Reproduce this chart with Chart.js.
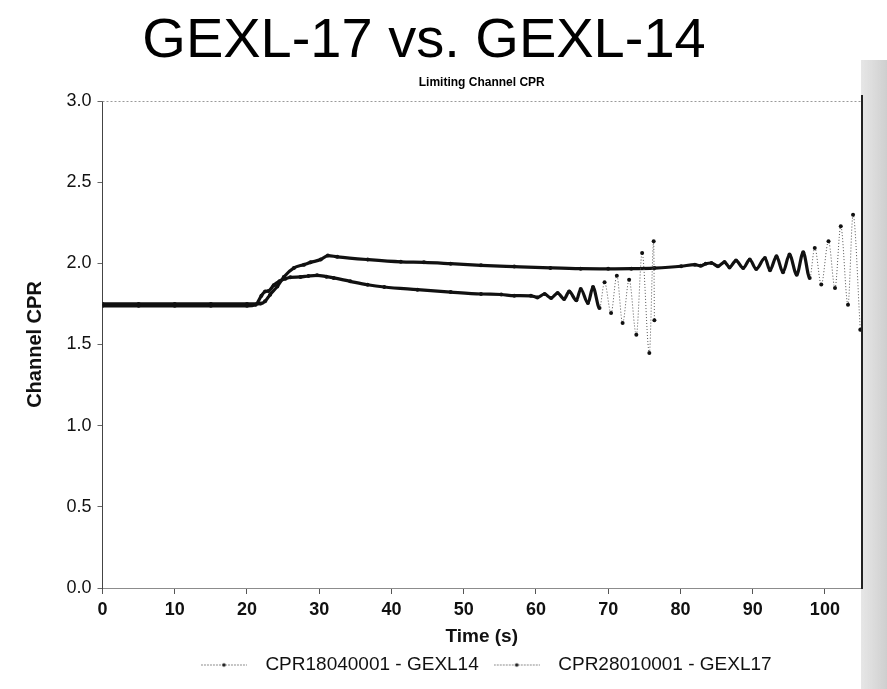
<!DOCTYPE html>
<html>
<head>
<meta charset="utf-8">
<script src="https://cdn.jsdelivr.net/npm/chart.js@4/dist/chart.umd.min.js"></script>
<style>
  html, body { margin: 0; padding: 0; background: #fff; }
  #wrap { position: relative; width: 887px; height: 689px; }
  canvas { display: block; }
</style>
</head>
<body>
<div id="wrap"><canvas id="c" width="887" height="689"></canvas></div>
<script>
// ---- data ----
const mainTitle = "GEXL-17 vs. GEXL-14";
const subTitle = "Limiting Channel CPR";
const xAxisTitle = "Time (s)";
const yAxisTitle = "Channel CPR";
const seriesLabels = ["CPR18040001 - GEXL14", "CPR28010001 - GEXL17"];
const xTickValues = [0, 10, 20, 30, 40, 50, 60, 70, 80, 90, 100];
const yTickValues = [0.0, 0.5, 1.0, 1.5, 2.0, 2.5, 3.0];

const timeGEXL14 = [0,5,10,15,20,21.2,22.0,22.5,23.0,23.7,24.5,25.3,26.0,27.4,28.5,29.7,31.0,32.0,34.3,36.7,39.0,43.6,48.2,52.4,55.2,57.0,59.3,60.2,61.2,62.1,63.0,63.9,64.6,65.6,66.2,67.2,67.9,68.8,69.5,70.4,71.2,72.0,72.9,73.9,74.7,75.7,76.3,76.4];
const cprGEXL14  = [1.738,1.738,1.738,1.738,1.738,1.745,1.800,1.827,1.830,1.865,1.890,1.905,1.914,1.916,1.922,1.926,1.918,1.910,1.889,1.868,1.854,1.838,1.823,1.811,1.808,1.801,1.800,1.790,1.811,1.786,1.817,1.780,1.827,1.772,1.842,1.755,1.854,1.725,1.883,1.694,1.924,1.632,1.899,1.560,2.064,1.447,2.136,1.650];

const timeGEXL17 = [0,5,10,15,20,21.9,22.5,23.2,24.2,25.1,26.5,27.9,28.8,30.2,31.2,32.5,36.7,41.3,44.5,48.2,52.4,57,62,66.2,70,73.2,76.4,80.1,82,82.8,83.5,84.3,85.2,86.1,86.8,87.7,88.7,89.6,90.5,91.7,92.4,93.3,94.2,95.1,96.1,97.0,97.9,98.6,99.5,100.5,101.4,102.2,103.2,103.9,104.9];
const cprGEXL17  = [1.750,1.750,1.750,1.750,1.750,1.752,1.766,1.807,1.858,1.916,1.972,1.992,2.006,2.023,2.048,2.040,2.023,2.009,2.006,1.998,1.988,1.980,1.972,1.967,1.966,1.967,1.971,1.982,1.992,1.985,1.997,2.002,1.982,2.008,1.975,2.017,1.971,2.023,1.965,2.033,1.957,2.043,1.945,2.054,1.930,2.068,1.910,2.095,1.869,2.136,1.848,2.228,1.745,2.300,1.591];

// ---- styling ----
const FONT = "'Liberation Sans', Arial, Helvetica, sans-serif";

function toPoints(xs, ys) { return xs.map((x, i) => ({ x: x, y: ys[i] })); }

function steep(ctx) {
  const dx = Math.abs(ctx.p1.x - ctx.p0.x);
  const dy = Math.abs(ctx.p1.y - ctx.p0.y);
  return dy > 4.5 * Math.max(dx, 0.001);
}

// legend sample: thin dotted grey line with a dark dot
function legendSample() {
  const cv = document.createElement('canvas');
  cv.width = 46; cv.height = 7;
  const g = cv.getContext('2d');
  g.strokeStyle = '#8a8a8a';
  g.lineWidth = 1;
  g.setLineDash([2, 1]);
  g.beginPath(); g.moveTo(0, 3.5); g.lineTo(46, 3.5); g.stroke();
  g.fillStyle = '#222';
  g.beginPath(); g.arc(23, 3.5, 1.8, 0, Math.PI * 2); g.fill();
  return cv;
}
const sample = legendSample();

function makeDataset(label, xs, ys) {
  return {
    label: label,
    data: toPoints(xs, ys),
    borderColor: '#111',
    backgroundColor: '#111',
    borderWidth: 3,
    pointRadius: 2,
    pointBorderWidth: 0,
    pointBackgroundColor: '#111',
    pointHoverRadius: 0,
    cubicInterpolationMode: 'monotone',
    fill: false,
    segment: {
      borderWidth: ctx => steep(ctx) ? 1 : 3.2,
      borderDash: ctx => steep(ctx) ? [1, 2] : undefined,
      borderColor: ctx => steep(ctx) ? '#555' : '#111'
    }
  };
}

const decorPlugin = {
  id: 'decor',
  beforeDraw(chart) {
    const c = chart.ctx;
    c.save();
    // scanned greyish strip on the right edge
    const grd = c.createLinearGradient(858, 0, 887, 0);
    grd.addColorStop(0, 'rgba(205,205,205,0.45)');
    grd.addColorStop(1, 'rgba(190,190,190,0.75)');
    c.fillStyle = grd;
    c.fillRect(861, 60, 26, 629);
    c.restore();
  },
  afterDraw(chart) {
    const c = chart.ctx;
    const a = chart.chartArea;
    c.save();
    // top border (light dotted)
    c.strokeStyle = '#9a9a9a';
    c.lineWidth = 1;
    c.setLineDash([2, 2]);
    c.beginPath(); c.moveTo(a.left, a.top + 0.5); c.lineTo(a.right, a.top + 0.5); c.stroke();
    c.setLineDash([]);
    // right border (solid dark)
    c.strokeStyle = '#222';
    c.lineWidth = 2;
    c.beginPath(); c.moveTo(a.right + 1, a.top - 6); c.lineTo(a.right + 1, a.bottom + 1); c.stroke();
    // titles
    c.fillStyle = '#000';
    c.textAlign = 'center';
    c.textBaseline = 'alphabetic';
    c.font = "56px " + FONT;
    c.fillText(mainTitle, 424, 57);
    c.font = "bold 12px " + FONT;
    c.fillText(subTitle, (a.left + a.right) / 2, 86);
    c.restore();
  }
};

new Chart(document.getElementById('c'), {
  type: 'line',
  data: {
    datasets: [
      makeDataset(seriesLabels[0], timeGEXL14, cprGEXL14),
      makeDataset(seriesLabels[1], timeGEXL17, cprGEXL17)
    ]
  },
  options: {
    responsive: false,
    animation: false,
    events: [],
    layout: { padding: { top: 101, right: 26, left: 8, bottom: 4.5 } },
    plugins: {
      tooltip: { enabled: false },
      title: { display: false },
      legend: {
        display: true,
        position: 'bottom',
        fullSize: false,
        labels: {
          usePointStyle: true,
          pointStyle: sample,
          pointStyleWidth: 64,
          padding: 6,
          color: '#111',
          font: { family: FONT, size: 19 }
        }
      }
    },
    scales: {
      x: {
        type: 'linear',
        min: 0, max: 105,
        afterBuildTicks: axis => { axis.ticks = xTickValues.map(v => ({ value: v })); },
        afterFit: s => { s.height = 61.5; },
        ticks: {
          color: '#111',
          padding: 5,
          font: { family: FONT, size: 18, weight: 'bold' },
          callback: v => String(v)
        },
        grid: { drawOnChartArea: false, drawTicks: true, tickLength: 6, color: '#555' },
        border: { color: '#8c8c8c', width: 1 },
        title: {
          display: true,
          text: xAxisTitle,
          color: '#111',
          padding: { top: 0, bottom: 1 },
          font: { family: FONT, size: 19, weight: 'bold' }
        }
      },
      y: {
        type: 'linear',
        min: 0, max: 3,
        afterBuildTicks: axis => { axis.ticks = yTickValues.map(v => ({ value: v })); },
        afterFit: s => { s.width = 94.5; },
        ticks: {
          color: '#111',
          padding: 6,
          font: { family: FONT, size: 18 },
          callback: v => Number(v).toFixed(1)
        },
        grid: { drawOnChartArea: false, drawTicks: true, tickLength: 5, color: '#666' },
        border: { color: '#444', width: 1, dash: [2, 2] },
        title: {
          display: true,
          text: yAxisTitle,
          color: '#111',
          padding: { top: 15, bottom: 0 },
          font: { family: FONT, size: 20, weight: 'bold' }
        }
      }
    }
  },
  plugins: [decorPlugin]
});
</script>
</body>
</html>
